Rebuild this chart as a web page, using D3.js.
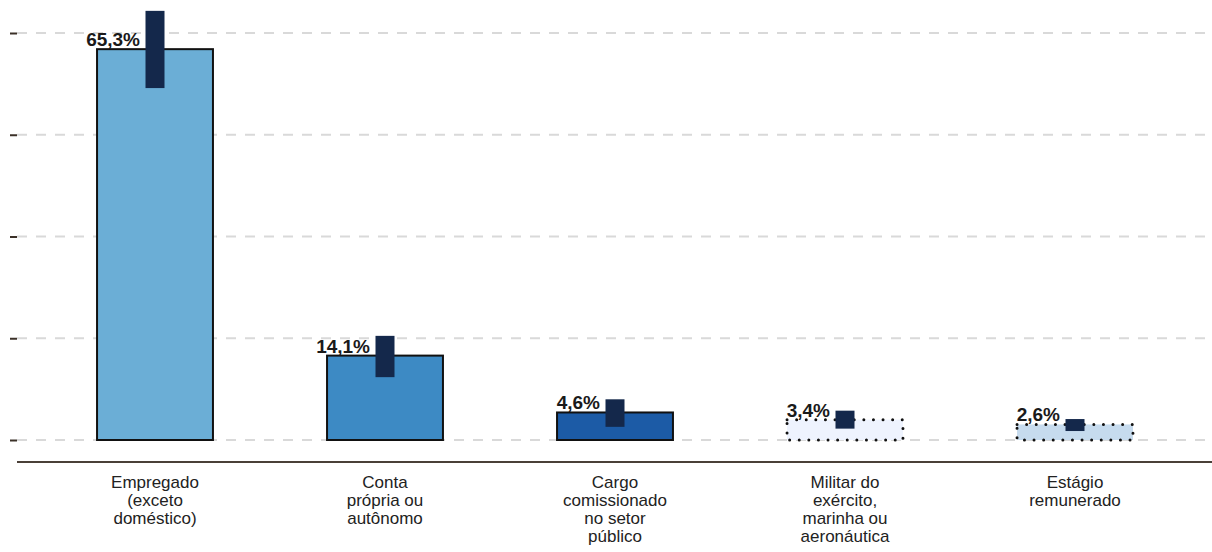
<!DOCTYPE html>
<html>
<head>
<meta charset="utf-8">
<script src="https://cdn.jsdelivr.net/npm/d3@7"></script>
<style>
  body { margin: 0; background: #fff; }
  svg { display: block; font-family: "Liberation Sans", Arial, sans-serif; }
</style>
</head>
<body>
<div id="chart"></div>
<script>
// data
const categories = [
    ["Empregado", "(exceto", "doméstico)"],
    ["Conta", "própria ou", "autônomo"],
    ["Cargo", "comissionado", "no setor", "público"],
    ["Militar do", "exército,", "marinha ou", "aeronáutica"],
    ["Estágio", "remunerado"]
]
const values = [65.3, 14.1, 4.6, 3.4, 2.6]
const lower = [58.8, 10.5, 2.2, 1.9, 1.5]
const upper = [71.7, 17.4, 6.8, 4.9, 3.5]
const labels = ["65,3%", "14,1%", "4,6%", "3,4%", "2,6%"]
const fills = ["#6baed6", "#3d8ac4", "#1c5ba6", "#eef3fe", "#c6dbee"]
const dotted = [false, false, false, true, true]
const yTicks = [0, 17, 34, 51, 68]

const w = 1212
const h = 552

const svg = d3.select('#chart')
    .append('svg')
    .attr('width', w)
    .attr('height', h)

// scales
const ids = d3.range(values.length)
const xScale = d3.scaleBand()
    .domain(ids)
    .range([40, 1190])
    .paddingInner(0.496)
    .paddingOuter(0.248)

const yScale = d3.scaleLinear()
    .domain([0, 68])
    .range([440, 33])

// gridlines
svg.append('g')
    .selectAll('line')
    .data(yTicks)
    .enter()
    .append('line')
    .attr('x1', 17)
    .attr('x2', w)
    .attr('y1', d => yScale(d))
    .attr('y2', d => yScale(d))
    .attr('stroke', '#d9d9d9')
    .attr('stroke-width', 2)
    .attr('stroke-dasharray', '10,9')

// y axis ticks, no labels
const yAxis = d3.axisLeft(yScale)
    .tickValues(yTicks)
    .tickSize(7)
    .tickFormat('')
svg.append('g')
    .attr('transform', 'translate(17,0)')
    .call(yAxis)
    .call(g => g.select('.domain').remove())
    .call(g => g.selectAll('.tick line').attr('stroke', '#3b3128').attr('stroke-width', 2))

// bars
svg.selectAll('rect.bar')
    .data(ids)
    .enter()
    .append('rect')
    .attr('class', 'bar')
    .attr('x', i => xScale(i))
    .attr('y', i => yScale(values[i]))
    .attr('width', xScale.bandwidth())
    .attr('height', i => yScale(0) - yScale(values[i]))
    .attr('fill', i => fills[i])
    .attr('stroke', '#111')
    .attr('stroke-width', i => dotted[i] ? 3 : 2)
    .attr('stroke-dasharray', i => dotted[i] ? '0,9.6' : null)
    .attr('stroke-linecap', i => dotted[i] ? 'round' : null)

// error bars as thick rects
svg.selectAll('rect.err')
    .data(ids)
    .enter()
    .append('rect')
    .attr('class', 'err')
    .attr('x', i => xScale(i) + xScale.bandwidth() / 2 - 9.5)
    .attr('y', i => yScale(upper[i]))
    .attr('width', 19)
    .attr('height', i => yScale(lower[i]) - yScale(upper[i]))
    .attr('fill', '#14284b')

// value labels
svg.selectAll('text.val')
    .data(ids)
    .enter()
    .append('text')
    .attr('class', 'val')
    .attr('x', i => xScale(i) + xScale.bandwidth() / 2 - 15)
    .attr('y', i => yScale(values[i]) - 3)
    .attr('text-anchor', 'end')
    .attr('font-size', '19px')
    .attr('font-weight', 'bold')
    .attr('fill', '#1a1a1a')
    .text(i => labels[i])

// x axis line
svg.append('line')
    .attr('x1', 17)
    .attr('x2', w)
    .attr('y1', 462)
    .attr('y2', 462)
    .attr('stroke', '#4a4038')
    .attr('stroke-width', 2.2)

// category labels
const catG = svg.append('g')
ids.forEach(i => {
    const t = catG.append('text')
        .attr('x', xScale(i) + xScale.bandwidth() / 2)
        .attr('y', 488)
        .attr('text-anchor', 'middle')
        .attr('font-size', '17px')
        .attr('fill', '#222')
    categories[i].forEach((line, k) => {
        t.append('tspan')
            .attr('x', xScale(i) + xScale.bandwidth() / 2)
            .attr('dy', k === 0 ? 0 : 18)
            .text(line)
    })
})
</script>
</body>
</html>
